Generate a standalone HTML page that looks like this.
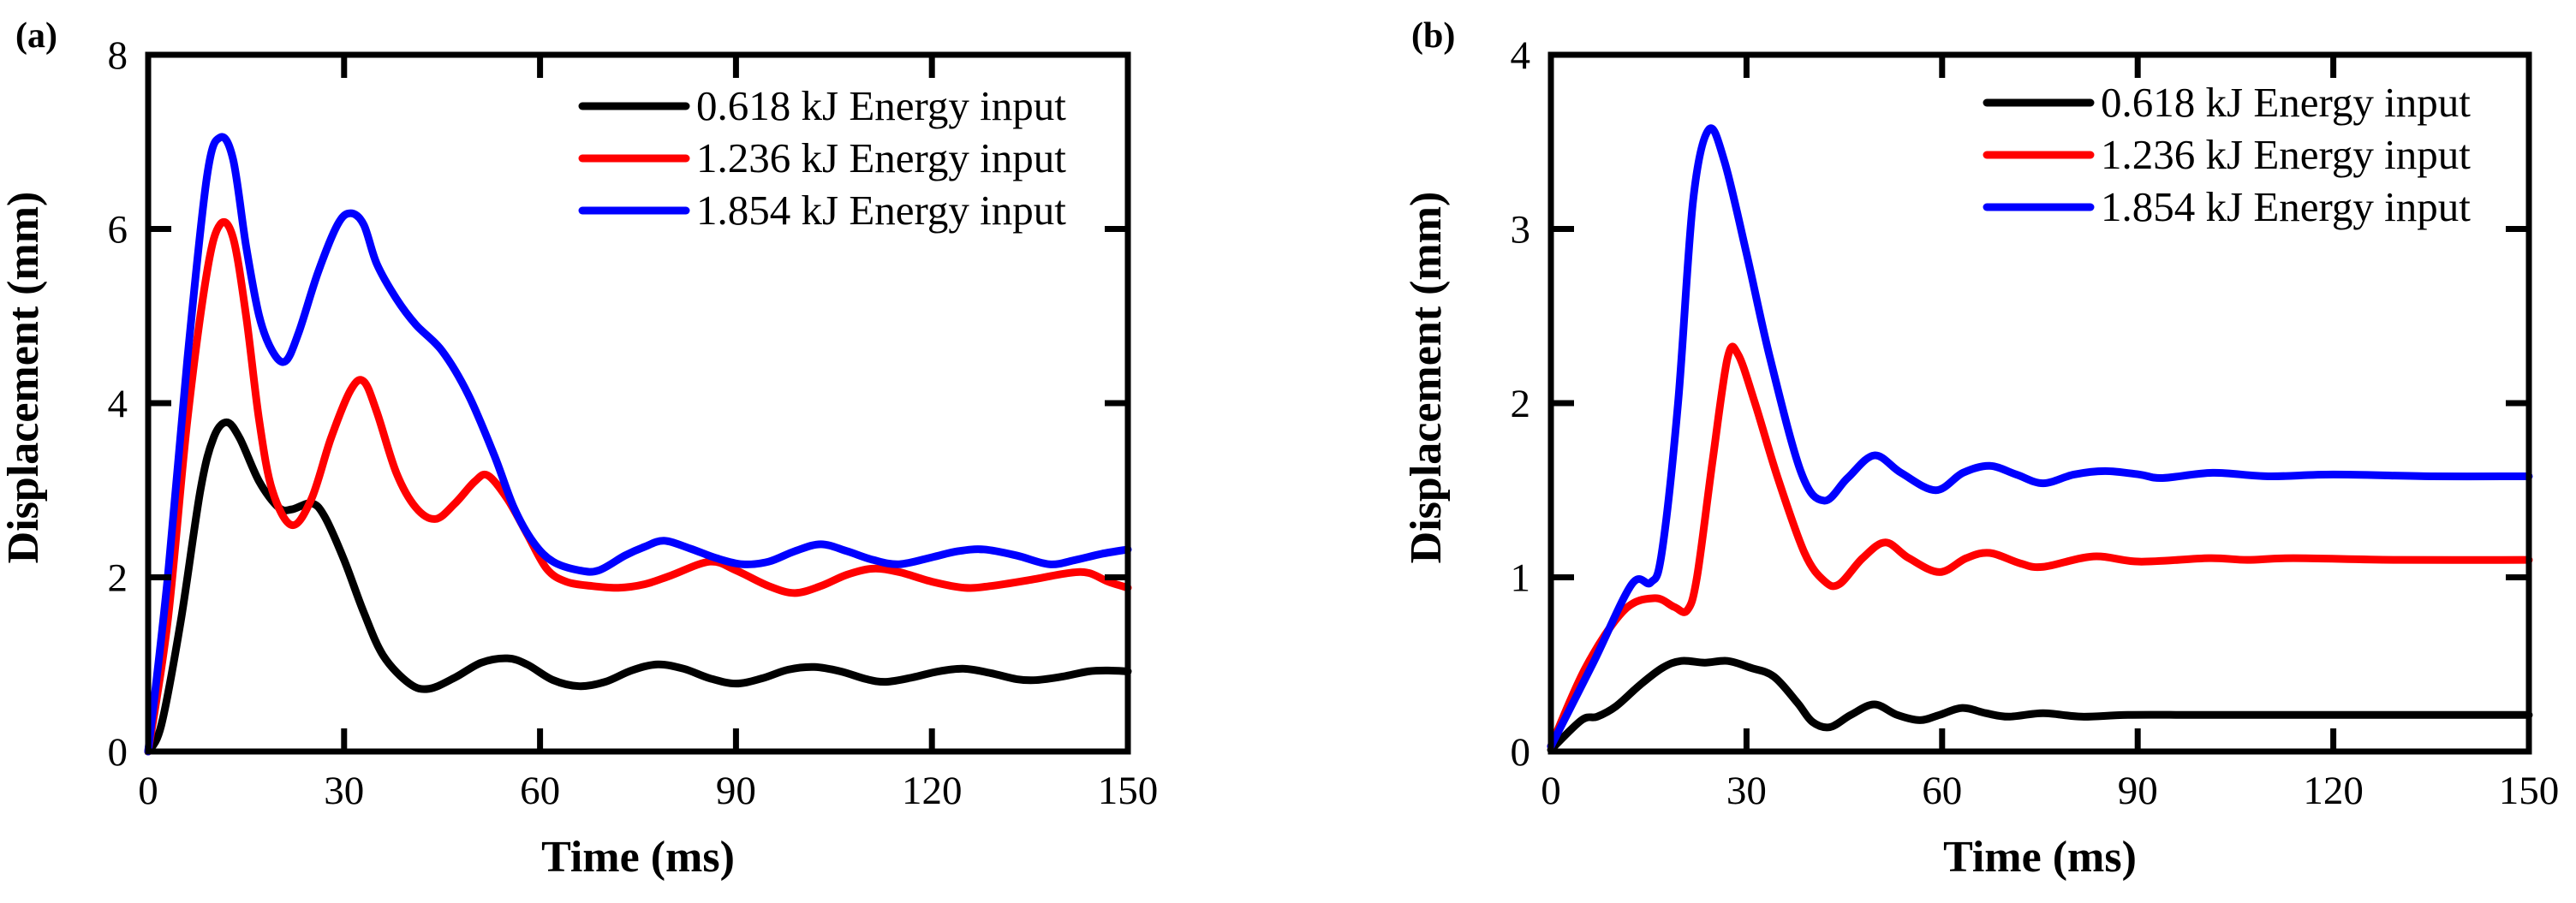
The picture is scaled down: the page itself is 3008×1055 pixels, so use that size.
<!DOCTYPE html>
<html><head><meta charset="utf-8">
<style>
html,body{margin:0;padding:0;background:#fff;}
svg{display:block;}
text{font-family:"Liberation Serif","Times New Roman",serif;}
</style></head>
<body>
<svg id="fig" width="3008" height="1055" viewBox="0 0 3008 1055" xmlns="http://www.w3.org/2000/svg"></svg>
<script>
// ---- data: panel (a) ----
const aBlackX=[0,2,5,8,10,12,14,17,20,22,25,27,30,33,36,40,43,47,51,55,58,62,66,70,74,78,82,86,90,94,98,102,106,110,113,117,121,125,129,133,136,140,144,147,150];
const aBlackY=[0,0.3,1.5,3.0,3.6,3.78,3.6,3.1,2.8,2.78,2.85,2.7,2.2,1.6,1.1,0.78,0.72,0.85,1.02,1.07,1.0,0.82,0.75,0.8,0.93,1.0,0.95,0.84,0.78,0.84,0.94,0.97,0.92,0.83,0.8,0.85,0.92,0.95,0.9,0.83,0.82,0.86,0.92,0.93,0.92];
const aRedX=[0,3,6,9,11,13,15,17,19,22,25,28,31,33,35,38,41,44,47,50,52,55,58,61,64,68,72,76,80,86,90,95,99,103,107,111,115,120,125,129,135,141,144,147,150];
const aRedY=[0,1.5,3.8,5.5,6.05,5.9,5.0,3.8,3.0,2.6,2.9,3.6,4.15,4.25,3.9,3.2,2.8,2.67,2.85,3.1,3.17,2.9,2.5,2.1,1.95,1.9,1.88,1.92,2.02,2.18,2.08,1.9,1.82,1.9,2.03,2.1,2.06,1.95,1.88,1.9,1.97,2.05,2.05,1.95,1.88];
const aBlueX=[0,3,6,9,11,13,15,17,19,21,23,26,29,31,33,35,38,41,45,49,53,56,59,62,66,69,73,76,79,83,87,91,95,99,103,107,111,115,120,124,128,133,138,142,146,150];
const aBlueY=[0,2.0,4.5,6.6,7.05,6.8,5.8,5.0,4.6,4.48,4.8,5.5,6.05,6.18,6.05,5.6,5.2,4.9,4.6,4.1,3.4,2.8,2.4,2.18,2.08,2.08,2.25,2.35,2.42,2.33,2.22,2.15,2.18,2.3,2.38,2.3,2.2,2.15,2.23,2.3,2.32,2.25,2.15,2.2,2.27,2.32];
// ---- data: panel (b) ----
const bBlackX=[0,4.7,7.1,10,13.6,17.1,20,23.6,27.1,30.7,34.2,37.8,40.1,42.8,46,49.6,53.1,56.6,59.6,63.1,66.7,70.2,75.5,81.4,88.5,100,120,150];
const bBlackY=[0.01,0.18,0.2,0.26,0.38,0.48,0.52,0.51,0.52,0.48,0.43,0.28,0.17,0.14,0.21,0.27,0.21,0.18,0.21,0.25,0.22,0.2,0.22,0.2,0.21,0.21,0.21,0.21];
const bRedX=[0,5.3,11.2,15.9,18.9,20.9,22.4,24.8,27.1,28.7,31.3,34.8,38.9,41.9,44.2,47.8,51.3,54.9,59.6,63.7,67.3,72,75.5,83.2,90.3,100.9,106.8,113.9,130,150];
const bRedY=[0.03,0.48,0.81,0.88,0.83,0.81,1.0,1.67,2.26,2.28,2.0,1.57,1.14,0.98,0.96,1.11,1.2,1.11,1.03,1.11,1.14,1.08,1.06,1.12,1.09,1.11,1.1,1.11,1.1,1.1];
const bBlueX=[0,6.5,12.4,15.3,17,19.5,21.8,24.2,26.6,30,33.6,38.4,41.9,45.5,49.6,53.7,59,63.2,67.3,71.4,75.5,80.2,85,90.3,93.8,101.5,110,120,135,150];
const bBlueY=[0.03,0.51,0.96,0.97,1.14,2.0,3.16,3.57,3.39,2.86,2.26,1.6,1.44,1.57,1.7,1.6,1.5,1.6,1.64,1.59,1.54,1.59,1.61,1.59,1.57,1.6,1.58,1.59,1.58,1.58];
const xTicks=[0,30,60,90,120,150];
const aYTicks=[0,2,4,6,8];
const bYTicks=[0,1,2,3,4];
const legendLabels=["0.618 kJ Energy input","1.236 kJ Energy input","1.854 kJ Energy input"];
const colors=["#000","#f00","#00f"];

const NS="http://www.w3.org/2000/svg";
const svg=document.getElementById('fig');
function el(tag,attrs,parent){const e=document.createElementNS(NS,tag);for(const k in attrs)e.setAttribute(k,attrs[k]);(parent||svg).appendChild(e);return e;}

function smoothPath(pts){
  let d=`M${pts[0][0]},${pts[0][1]}`;
  for(let i=0;i<pts.length-1;i++){
    const p0=pts[i-1]||pts[i],p1=pts[i],p2=pts[i+1],p3=pts[i+2]||p2;
    const c1=[p1[0]+(p2[0]-p0[0])/6,p1[1]+(p2[1]-p0[1])/6];
    const c2=[p2[0]-(p3[0]-p1[0])/6,p2[1]-(p3[1]-p1[1])/6];
    d+=` C${c1[0]},${c1[1]} ${c2[0]},${c2[1]} ${p2[0]},${p2[1]}`;
  }
  return d;
}

function panel(cfg){
  const g=el('g',{});
  
  
  const {x0,x1,y0,y1,ymax}=cfg;
  const sx=v=>x0+(v/150)*(x1-x0);
  const sy=v=>y1-(v/ymax)*(y1-y0);
  cfg.series.forEach((s,i)=>{
    const pts=s.x.map((v,j)=>[sx(v),sy(s.y[j])]);
    const p=el('path',{d:smoothPath(pts),fill:'none',stroke:colors[i],'stroke-width':9,'stroke-linejoin':'round','stroke-linecap':'round'},g);
    
    
  });
  const f=el('rect',{x:x0,y:y0,width:x1-x0,height:y1-y0,fill:'none',stroke:'#000','stroke-width':7},g);
  
  
  xTicks.forEach(t=>{
    const X=sx(t);
    if(t>0&&t<150){
      el('line',{x1:X,y1:y1,x2:X,y2:y1-27,stroke:'#000','stroke-width':7},g);
      el('line',{x1:X,y1:y0,x2:X,y2:y0+27,stroke:'#000','stroke-width':7},g);
    }
    const tx=el('text',{x:X,y:939,'font-size':47,'text-anchor':'middle'},g);
    tx.textContent=t;
    
    
  });
  cfg.yTicks.forEach(t=>{
    const Y=sy(t);
    if(t>0&&t<ymax){
      el('line',{x1:x0,y1:Y,x2:x0+27,y2:Y,stroke:'#000','stroke-width':7},g);
      el('line',{x1:x1,y1:Y,x2:x1-27,y2:Y,stroke:'#000','stroke-width':7},g);
    }
    const tx=el('text',{x:x0-24,y:Y+16,'font-size':47,'text-anchor':'end'},g);
    tx.textContent=t;
    
    
  });
  const xt=el('text',{x:(x0+x1)/2,y:1018,'font-size':52,'font-weight':'bold','text-anchor':'middle'},g);
  xt.textContent='Time (ms)';
  
  
  const yt=el('text',{x:0,y:0,'font-size':52,'font-weight':'bold','text-anchor':'middle',transform:`translate(${cfg.ytx},441) rotate(-90)`},g);
  yt.textContent='Displacement (mm)';
  
  
  const pl=el('text',{x:cfg.plx,y:55,'font-size':42,'font-weight':'bold'},g);
  pl.textContent=cfg.label;
  
  
  legendLabels.forEach((lab,i)=>{
    const Y=cfg.legY+i*61;
    const le=el('g',{},g);
    
    
    el('line',{x1:cfg.legX,y1:Y,x2:cfg.legX+121,y2:Y,stroke:colors[i],'stroke-width':9,'stroke-linecap':'round'},le);
    const t=el('text',{x:cfg.legX+133,y:Y+16,'font-size':49},le);
    t.textContent=lab;
  });
}

panel({name:'panel-a',label:'(a)',plx:18,x0:173,x1:1317,y0:64,y1:878,ymax:8,yTicks:aYTicks,ytx:44,legX:680,legY:124,
  series:[{id:'0618',x:aBlackX,y:aBlackY},{id:'1236',x:aRedX,y:aRedY},{id:'1854',x:aBlueX,y:aBlueY}]});
panel({name:'panel-b',label:'(b)',plx:1648,x0:1811,x1:2953,y0:64,y1:878,ymax:4,yTicks:bYTicks,ytx:1682,legX:2320,legY:120,
  series:[{id:'0618',x:bBlackX,y:bBlackY},{id:'1236',x:bRedX,y:bRedY},{id:'1854',x:bBlueX,y:bBlueY}]});
</script>
</body></html>
